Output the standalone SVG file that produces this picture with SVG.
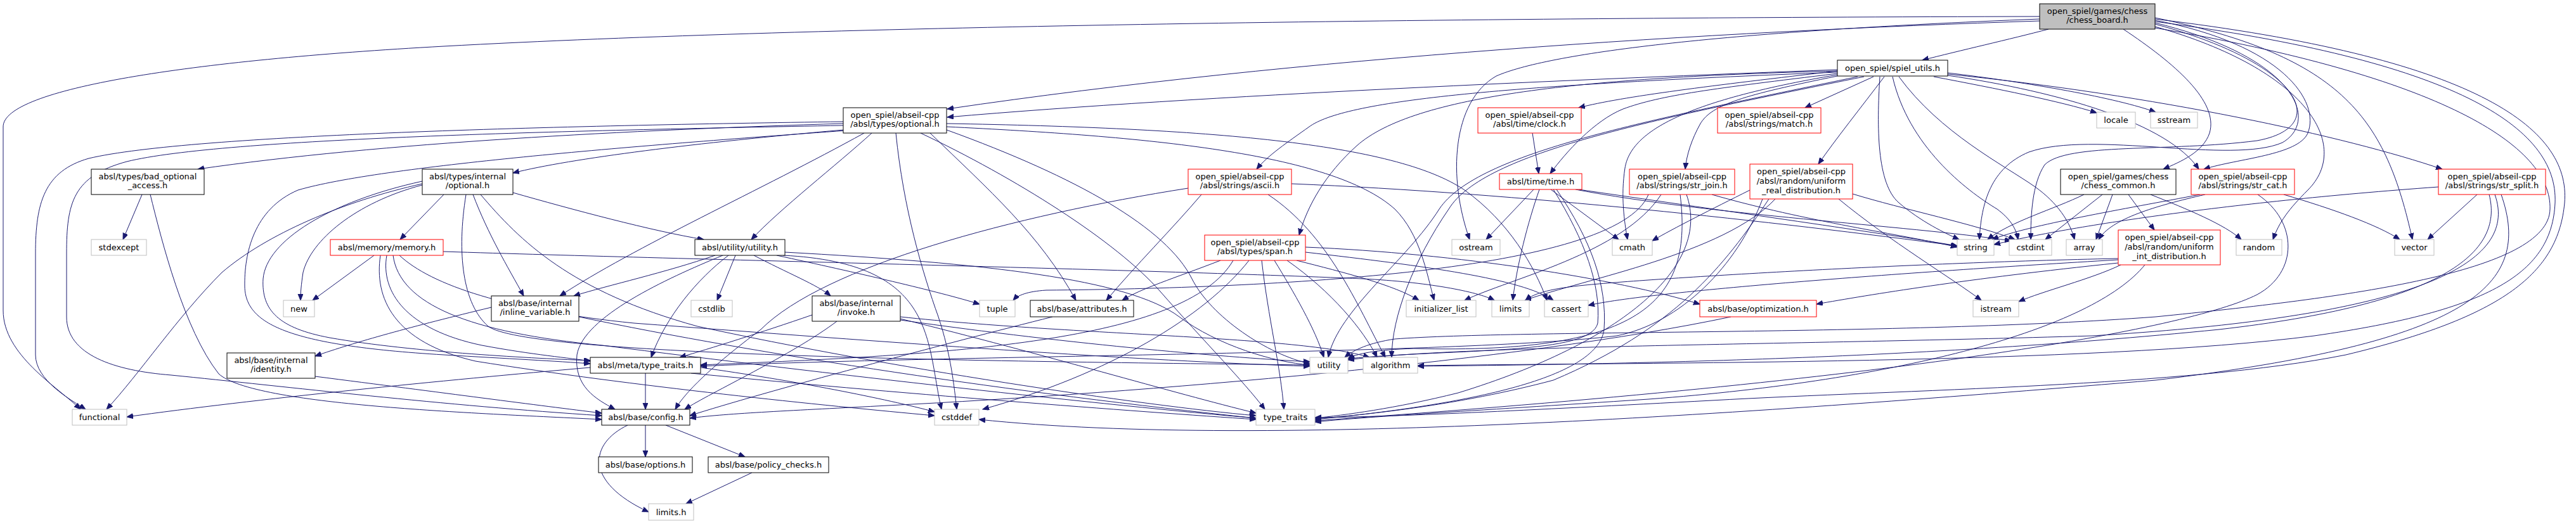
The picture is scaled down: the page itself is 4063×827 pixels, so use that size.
<svg xmlns="http://www.w3.org/2000/svg" width="4063" height="827" viewBox="0 0 4063 827">
<style>
.n rect{fill:#fff;stroke:#000;stroke-width:1}
.n.sys rect{stroke:#bfbfbf}
.n.red rect{stroke:#ff0000}
.n.root rect{fill:#bfbfbf}
.n text{font-family:"DejaVu Sans","Liberation Sans",sans-serif;font-size:13px;text-anchor:middle;fill:#000}
.e path{fill:none;stroke:#191970;stroke-width:1;marker-end:url(#a)}
</style>
<defs>
<marker id="a" markerUnits="userSpaceOnUse" markerWidth="12" markerHeight="10" refX="10" refY="4" orient="auto"><path d="M0,0L10,4L0,8z" fill="#191970" stroke="#191970" stroke-width="1"/></marker>
</defs>
<rect width="4063" height="827" fill="#fff"/>
<g id="edges" class="e">
<path d="M3231,46 C3170,62 3090,80 3032,95"/>
<path d="M3217,26 C2300,28 1300,40 700,73 C300,95 5,140 5,200 L5,490 C5,560 90,610 127,646"/>
<path d="M3217,33 C2700,50 2050,90 1494,172"/>
<path d="M3217,30 C2700,50 2440,85 2360,120 C2290,160 2283,280 2318,378"/>
<path d="M3349,46 C3430,100 3500,160 3485,210 C3475,240 3440,255 3412,267"/>
<path d="M3399,32 C3600,70 3660,160 3640,210 C3625,245 3530,250 3476,267"/>
<path d="M3399,28 C3700,90 3763,190 3805,378"/>
<path d="M3399,42 C3640,110 3710,230 3640,300 C3610,330 3595,350 3585,378"/>
<path d="M3399,36 C3620,90 3660,190 3600,225 C3520,260 3300,205 3200,240 C3140,265 3125,320 3122,378"/>
<path d="M3399,38 C3630,100 3680,200 3560,222 C3420,240 3260,225 3225,260 C3205,290 3203,340 3203,378"/>
<path d="M3399,30 C3900,90 4055,200 4045,320 C4035,430 3950,500 3700,560 C3450,610 3000,615 2700,632 C2400,648 2200,658 2074,659"/>
<path d="M3399,34 C3870,95 4035,200 4030,320 C4025,430 3930,490 3650,530 C3300,575 2600,572 2236,577"/>
<path d="M3399,44 C3850,120 4025,230 4022,330 C4020,430 3700,470 3400,500 C3000,530 2400,520 2200,535 C2160,541 2135,552 2121,564"/>
<path d="M2898,110 C2500,125 1900,150 1494,185"/>
<path d="M2898,112 C2700,135 2560,152 2490,170"/>
<path d="M2898,116 C2700,140 2620,150 2560,172 C2515,190 2470,240 2445,274"/>
<path d="M2955,121 L2847,170"/>
<path d="M2898,120 C2750,150 2700,165 2682,195 C2668,220 2660,245 2658,267"/>
<path d="M2898,118 C2650,160 2572,210 2563,265 C2556,310 2562,350 2567,378"/>
<path d="M2898,114 C2350,135 2120,160 2065,200 C2030,225 2000,245 1982,267"/>
<path d="M2898,112 C2500,122 2230,150 2140,230 C2090,275 2062,325 2049,371"/>
<path d="M2972,121 C2935,170 2895,220 2868,259"/>
<path d="M3050,121 C3150,140 3250,160 3307,178"/>
<path d="M3072,115 C3200,130 3340,155 3400,177"/>
<path d="M3072,119 C3250,145 3420,195 3468,267"/>
<path d="M3072,117 C3400,150 3700,215 3852,267"/>
<path d="M2965,121 C2960,200 2960,290 2995,320 C3030,350 3068,368 3090,378"/>
<path d="M2985,121 C3010,230 3100,300 3150,330 C3170,345 3180,360 3183,378"/>
<path d="M2995,121 C3060,210 3160,260 3210,295 C3245,320 3265,350 3272,378"/>
<path d="M2930,121 C2600,190 2330,240 2270,330 C2220,410 2110,490 2095,564"/>
<path d="M2940,121 C2610,188 2340,240 2285,330 C2230,410 2195,500 2195,564"/>
<path d="M1330,195 C1000,205 600,225 312,267"/>
<path d="M1330,192 C900,198 300,212 140,250 C70,270 56,320 56,400 L56,560 C56,600 110,630 135,646"/>
<path d="M1330,198 C900,206 350,218 200,255 C115,278 105,320 105,400 L105,500 C105,560 180,585 270,592 C450,610 700,640 949,656"/>
<path d="M1330,205 C1100,225 900,250 809,273"/>
<path d="M1375,210 C1320,260 1230,330 1185,378"/>
<path d="M1363,210 C1200,300 1000,390 883,467"/>
<path d="M1467,210 C1560,300 1640,370 1697,474"/>
<path d="M1452,210 C1600,280 1760,380 1830,460 C1900,540 1960,600 1995,646"/>
<path d="M1413,210 C1425,330 1455,430 1480,500 C1500,560 1505,610 1509,646"/>
<path d="M1493,200 C1800,215 2100,240 2200,330 C2240,370 2250,430 2262,474"/>
<path d="M1493,195 C1900,202 2200,225 2310,300 C2380,350 2420,420 2440,474"/>
<path d="M1493,205 C1700,280 1840,360 1880,440 C1910,500 2000,560 2066,574"/>
<path d="M1335,206 C1000,230 600,262 470,300 C400,330 385,400 386,453 C388,510 450,545 700,560 C800,566 880,570 931,574"/>
<path d="M224,307 L194,378"/>
<path d="M237,307 C255,380 290,520 345,590 C400,640 750,652 949,662"/>
<path d="M700,307 L631,378"/>
<path d="M666,292 C560,320 490,380 478,430 C475,450 474,462 474,474"/>
<path d="M666,290 C540,318 420,370 350,430 C280,500 220,590 168,646"/>
<path d="M746,307 C770,370 800,420 826,467"/>
<path d="M809,304 C900,330 1030,365 1110,378"/>
<path d="M666,286 C520,318 420,380 415,440 C412,490 440,518 520,533 C650,556 850,566 931,569"/>
<path d="M758,307 C820,380 900,460 1100,515 C1400,580 1800,640 1981,656"/>
<path d="M735,307 C720,400 730,480 770,515 C830,560 1500,570 2066,576"/>
<path d="M590,403 L493,474"/>
<path d="M600,403 C590,470 620,540 750,570 C1000,610 1300,640 1474,656"/>
<path d="M699,397 C1100,410 1800,425 2150,440 C2250,445 2330,460 2357,474"/>
<path d="M610,403 C600,460 640,520 760,545 C840,560 900,565 931,570"/>
<path d="M620,403 C630,480 740,525 950,545 C1300,590 1750,640 1981,660"/>
<path d="M630,403 C680,450 800,490 1000,510 C1400,540 1800,570 2066,578"/>
<path d="M1160,403 L1131,474"/>
<path d="M1128,403 C1050,430 960,450 905,467"/>
<path d="M1149,403 C1100,440 1050,500 1027,564"/>
<path d="M1140,403 C1050,440 920,500 910,560 C905,610 940,630 970,646"/>
<path d="M1189,403 C1240,430 1290,450 1310,467"/>
<path d="M1225,403 C1350,430 1480,460 1545,480"/>
<path d="M1235,403 C1480,415 1460,540 1485,646"/>
<path d="M1238,398 C1550,415 1780,440 1860,500 C1920,545 2010,572 2066,576"/>
<path d="M775,485 C650,515 560,540 497,562"/>
<path d="M913,500 C1200,560 1600,620 1981,660"/>
<path d="M497,594 C700,620 850,640 949,652"/>
<path d="M1281,497 C1200,525 1120,550 1072,564"/>
<path d="M1320,507 C1250,560 1120,620 1080,646"/>
<path d="M1420,500 C1700,530 2050,530 2160,564"/>
<path d="M1420,503 C1650,560 1850,620 1981,652"/>
<path d="M1420,505 C1700,545 1950,565 2066,571"/>
<path d="M1018,589 L1018,646"/>
<path d="M931,580 C700,600 400,630 200,658"/>
<path d="M1105,580 C1250,600 1400,630 1474,650"/>
<path d="M1090,589 C1400,620 1800,650 1981,662"/>
<path d="M1018,671 L1018,721"/>
<path d="M1050,671 L1175,721"/>
<path d="M990,671 C930,700 920,760 1023,808"/>
<path d="M1186,746 L1082,795"/>
<path d="M1660,500 C1500,540 1200,620 1088,656"/>
<path d="M1895,307 C1850,360 1790,420 1745,474"/>
<path d="M1874,297 C1600,340 1300,420 1200,520 C1120,580 1080,620 1065,646"/>
<path d="M2000,307 C2095,370 2140,480 2185,564"/>
<path d="M2037,290 C2400,305 2800,350 3087,388"/>
<path d="M1925,411 C1850,440 1800,455 1770,474"/>
<path d="M1970,411 C1900,500 1750,590 1550,646"/>
<path d="M1945,411 C1870,540 1500,560 1105,576"/>
<path d="M1990,411 C2000,500 2020,580 2025,646"/>
<path d="M2010,411 C2040,460 2075,520 2088,564"/>
<path d="M2030,411 C2100,460 2150,520 2172,564"/>
<path d="M2045,411 C2120,430 2200,450 2238,474"/>
<path d="M2059,398 C2250,420 2400,440 2450,474"/>
<path d="M2059,390 C2300,400 2550,440 2681,480"/>
<path d="M2419,299 L2344,378"/>
<path d="M2446,299 L2553,378"/>
<path d="M2428,299 C2410,350 2392,420 2386,474"/>
<path d="M2450,299 C2500,380 2525,450 2520,510 C2510,560 2300,550 2126,566"/>
<path d="M2455,299 C2510,380 2535,450 2530,520 C2520,600 2300,640 2074,662"/>
<path d="M2490,299 C2700,330 2950,365 3087,388"/>
<path d="M2485,299 C2700,340 3000,355 3172,380"/>
<path d="M2417,210 L2427,274"/>
<path d="M2600,307 C2550,430 2000,455 1650,458 C1620,460 1605,466 1598,474"/>
<path d="M2620,307 C2560,400 2380,440 2310,474"/>
<path d="M2700,307 C2850,350 3000,370 3087,390"/>
<path d="M2660,307 C2700,420 2560,540 2300,620 C2200,645 2120,655 2074,660"/>
<path d="M2650,307 C2670,470 2600,560 2230,550 C2170,552 2140,558 2126,566"/>
<path d="M2760,300 C2700,330 2640,360 2606,380"/>
<path d="M2922,306 C3000,330 3120,355 3178,378"/>
<path d="M2900,314 C2980,380 3080,440 3125,474"/>
<path d="M2800,314 C2720,400 2500,440 2405,474"/>
<path d="M2790,314 C2720,420 2640,520 2450,600 C2300,640 2150,655 2074,661"/>
<path d="M2780,314 C2740,420 2650,510 2550,530 C2300,560 1500,560 1105,578"/>
<path d="M3287,307 C3240,330 3170,350 3135,378"/>
<path d="M3316,307 L3226,378"/>
<path d="M3332,307 L3306,378"/>
<path d="M3357,307 L3398,363"/>
<path d="M3392,307 C3450,330 3510,355 3535,378"/>
<path d="M3602,307 C3680,330 3750,355 3785,378"/>
<path d="M3470,307 C3350,330 3200,355 3142,378"/>
<path d="M3478,307 C3400,325 3330,345 3310,378"/>
<path d="M3561,307 C3625,350 3625,430 3560,465 C3450,520 3000,600 2074,664"/>
<path d="M3907,307 L3829,378"/>
<path d="M3846,295 C3500,320 3250,360 3145,386"/>
<path d="M3926,307 C3950,400 3850,480 3500,520 C3000,570 2500,575 2236,578"/>
<path d="M3935,307 C3975,420 3800,500 3300,530 C2800,545 2300,545 2126,568"/>
<path d="M3945,307 C3995,450 3900,540 3400,600 C2800,650 2000,710 1544,662"/>
<path d="M3345,418 C3300,440 3220,460 3184,476"/>
<path d="M3341,415 C3100,440 2950,465 2865,480"/>
<path d="M3341,410 C3000,430 2600,460 2505,482"/>
<path d="M3341,408 C3000,415 2600,440 2500,450 C2450,455 2420,462 2406,474"/>
<path d="M3383,418 C3300,520 3000,600 2600,630 C2300,650 2150,658 2074,666"/>
<path d="M2730,500 C2400,570 1800,620 1400,640 C1250,648 1150,652 1088,660"/>
</g>
<g id="chess_board" class="n root"><rect x="3217" y="6" width="182" height="40"/><text x="3308" y="21.5">open_spiel/games/chess</text><text x="3308" y="36">/chess_board.h</text></g>
<g id="spiel_utils" class="n"><rect x="2898" y="95" width="174" height="25"/><text x="2985" y="112">open_spiel/spiel_utils.h</text></g>
<g id="optional_os" class="n"><rect x="1330" y="170" width="163" height="40"/><text x="1411.5" y="185.5">open_spiel/abseil-cpp</text><text x="1411.5" y="200">/absl/types/optional.h</text></g>
<g id="clock" class="n red"><rect x="2331" y="170" width="163" height="40"/><text x="2412.5" y="185.5">open_spiel/abseil-cpp</text><text x="2412.5" y="200">/absl/time/clock.h</text></g>
<g id="match" class="n red"><rect x="2709" y="170" width="163" height="40"/><text x="2790.5" y="185.5">open_spiel/abseil-cpp</text><text x="2790.5" y="200">/absl/strings/match.h</text></g>
<g id="locale" class="n sys"><rect x="3307" y="177" width="61" height="25"/><text x="3337.5" y="194">locale</text></g>
<g id="sstream" class="n sys"><rect x="3392" y="177" width="74" height="25"/><text x="3429" y="194">sstream</text></g>
<g id="bad_optional_access" class="n"><rect x="144" y="267" width="178" height="40"/><text x="233" y="282.5">absl/types/bad_optional</text><text x="233" y="297">_access.h</text></g>
<g id="internal_optional" class="n"><rect x="666" y="267" width="143" height="40"/><text x="737.5" y="282.5">absl/types/internal</text><text x="737.5" y="297">/optional.h</text></g>
<g id="ascii" class="n red"><rect x="1874" y="267" width="163" height="40"/><text x="1955.5" y="282.5">open_spiel/abseil-cpp</text><text x="1955.5" y="297">/absl/strings/ascii.h</text></g>
<g id="time" class="n red"><rect x="2365" y="274" width="130" height="25"/><text x="2430" y="291">absl/time/time.h</text></g>
<g id="str_join" class="n red"><rect x="2570" y="267" width="166" height="40"/><text x="2653" y="282.5">open_spiel/abseil-cpp</text><text x="2653" y="297">/absl/strings/str_join.h</text></g>
<g id="uniform_real" class="n red"><rect x="2760" y="259" width="162" height="55"/><text x="2841" y="275">open_spiel/abseil-cpp</text><text x="2841" y="290">/absl/random/uniform</text><text x="2841" y="305">_real_distribution.h</text></g>
<g id="chess_common" class="n"><rect x="3250" y="267" width="182" height="40"/><text x="3341" y="282.5">open_spiel/games/chess</text><text x="3341" y="297">/chess_common.h</text></g>
<g id="str_cat" class="n red"><rect x="3456" y="267" width="163" height="40"/><text x="3537.5" y="282.5">open_spiel/abseil-cpp</text><text x="3537.5" y="297">/absl/strings/str_cat.h</text></g>
<g id="str_split" class="n red"><rect x="3846" y="267" width="169" height="40"/><text x="3930.5" y="282.5">open_spiel/abseil-cpp</text><text x="3930.5" y="297">/absl/strings/str_split.h</text></g>
<g id="stdexcept" class="n sys"><rect x="144" y="378" width="87" height="25"/><text x="187.5" y="395">stdexcept</text></g>
<g id="memory" class="n red"><rect x="521" y="378" width="178" height="25"/><text x="610" y="395">absl/memory/memory.h</text></g>
<g id="utility_h" class="n"><rect x="1096" y="378" width="142" height="25"/><text x="1167" y="395">absl/utility/utility.h</text></g>
<g id="span" class="n red"><rect x="1900" y="371" width="159" height="40"/><text x="1979.5" y="386.5">open_spiel/abseil-cpp</text><text x="1979.5" y="401">/absl/types/span.h</text></g>
<g id="ostream" class="n sys"><rect x="2290" y="378" width="76" height="25"/><text x="2328" y="395">ostream</text></g>
<g id="cmath" class="n sys"><rect x="2543" y="378" width="63" height="25"/><text x="2574.5" y="395">cmath</text></g>
<g id="string" class="n sys"><rect x="3087" y="378" width="58" height="25"/><text x="3116" y="395">string</text></g>
<g id="cstdint" class="n sys"><rect x="3169" y="378" width="67" height="25"/><text x="3202.5" y="395">cstdint</text></g>
<g id="array" class="n sys"><rect x="3259" y="378" width="57" height="25"/><text x="3287.5" y="395">array</text></g>
<g id="uniform_int" class="n red"><rect x="3341" y="363" width="161" height="55"/><text x="3421.5" y="379">open_spiel/abseil-cpp</text><text x="3421.5" y="394">/absl/random/uniform</text><text x="3421.5" y="409">_int_distribution.h</text></g>
<g id="random" class="n sys"><rect x="3527" y="378" width="72" height="25"/><text x="3563" y="395">random</text></g>
<g id="vector" class="n sys"><rect x="3777" y="378" width="62" height="25"/><text x="3808" y="395">vector</text></g>
<g id="new" class="n sys"><rect x="447" y="474" width="49" height="26"/><text x="471.5" y="491.5">new</text></g>
<g id="inline_variable" class="n"><rect x="775" y="467" width="138" height="40"/><text x="844" y="482.5">absl/base/internal</text><text x="844" y="497">/inline_variable.h</text></g>
<g id="cstdlib" class="n sys"><rect x="1090" y="474" width="65" height="26"/><text x="1122.5" y="491.5">cstdlib</text></g>
<g id="invoke" class="n"><rect x="1281" y="467" width="139" height="40"/><text x="1350.5" y="482.5">absl/base/internal</text><text x="1350.5" y="497">/invoke.h</text></g>
<g id="tuple" class="n sys"><rect x="1545" y="474" width="56" height="26"/><text x="1573" y="491.5">tuple</text></g>
<g id="attributes" class="n"><rect x="1625" y="474" width="163" height="26"/><text x="1706.5" y="491.5">absl/base/attributes.h</text></g>
<g id="initializer_list" class="n sys"><rect x="2218" y="474" width="110" height="26"/><text x="2273" y="491.5">initializer_list</text></g>
<g id="limits" class="n sys"><rect x="2353" y="474" width="59" height="26"/><text x="2382.5" y="491.5">limits</text></g>
<g id="cassert" class="n sys"><rect x="2436" y="474" width="69" height="26"/><text x="2470.5" y="491.5">cassert</text></g>
<g id="optimization" class="n red"><rect x="2681" y="474" width="184" height="26"/><text x="2773" y="491.5">absl/base/optimization.h</text></g>
<g id="istream" class="n sys"><rect x="3112" y="474" width="72" height="26"/><text x="3148" y="491.5">istream</text></g>
<g id="identity" class="n"><rect x="358" y="557" width="139" height="40"/><text x="427.5" y="572.5">absl/base/internal</text><text x="427.5" y="587">/identity.h</text></g>
<g id="type_traits_h" class="n"><rect x="931" y="564" width="174" height="25"/><text x="1018" y="581">absl/meta/type_traits.h</text></g>
<g id="utility" class="n sys"><rect x="2066" y="564" width="60" height="25"/><text x="2096" y="581">utility</text></g>
<g id="algorithm" class="n sys"><rect x="2150" y="564" width="86" height="25"/><text x="2193" y="581">algorithm</text></g>
<g id="functional" class="n sys"><rect x="114" y="646" width="86" height="25"/><text x="157" y="663">functional</text></g>
<g id="config" class="n"><rect x="949" y="646" width="139" height="25"/><text x="1018.5" y="663">absl/base/config.h</text></g>
<g id="cstddef" class="n sys"><rect x="1474" y="646" width="70" height="25"/><text x="1509" y="663">cstddef</text></g>
<g id="type_traits" class="n sys"><rect x="1981" y="646" width="93" height="25"/><text x="2027.5" y="663">type_traits</text></g>
<g id="options" class="n"><rect x="944" y="721" width="148" height="25"/><text x="1018" y="738">absl/base/options.h</text></g>
<g id="policy_checks" class="n"><rect x="1117" y="721" width="190" height="25"/><text x="1212" y="738">absl/base/policy_checks.h</text></g>
<g id="limits_h" class="n sys"><rect x="1023" y="795" width="71" height="26"/><text x="1058.5" y="812.5">limits.h</text></g>
</svg>
